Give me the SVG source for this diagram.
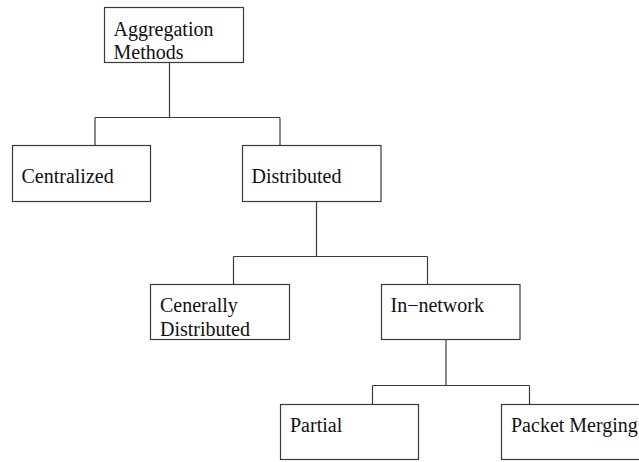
<svg xmlns="http://www.w3.org/2000/svg" width="639" height="462" viewBox="0 0 639 462">
  <style>
    .box { fill: #ffffff; stroke: #3a3a3a; stroke-width: 1.2; }
    .lbl { font-family: "Liberation Serif", "Times New Roman", serif; font-size: 20px; fill: #111111; }
    .conn { fill: none; stroke: #3a3a3a; stroke-width: 1.2; }
  </style>
  <rect width="639" height="462" fill="#ffffff"/>

  <!-- tree connectors -->
  <g id="connectors">
    <path class="conn" d="M169.5 62.5 V117.5 M95 117.5 H280 M95 117.5 V145.5 M280 117.5 V145.5"/>
    <path class="conn" d="M316.5 201.5 V256.5 M233.5 256.5 H427.5 M233.5 256.5 V284.5 M427.5 256.5 V284.5"/>
    <path class="conn" d="M446 339.5 V385.5 M372.5 385.5 H529.5 M372.5 385.5 V404.5 M529.5 385.5 V404.5"/>
  </g>

  <g id="node-aggregation">
    <rect class="box" x="104.5" y="7.5" width="139" height="55"/>
    <text class="lbl" x="113.5" y="35.5">Aggregation</text>
    <text class="lbl" x="113.5" y="58.5">Methods</text>
  </g>

  <g id="node-centralized">
    <rect class="box" x="12.5" y="145.5" width="138" height="56"/>
    <text class="lbl" x="21.5" y="183">Centralized</text>
  </g>

  <g id="node-distributed">
    <rect class="box" x="242.5" y="145.5" width="138.5" height="56"/>
    <text class="lbl" x="251.5" y="183">Distributed</text>
  </g>

  <g id="node-generally-distributed">
    <rect class="box" x="150.5" y="284.5" width="139" height="55"/>
    <text class="lbl" x="160" y="311.5">Cenerally</text>
    <text class="lbl" x="160" y="335.5">Distributed</text>
  </g>

  <g id="node-in-network">
    <rect class="box" x="381.5" y="284.5" width="138.5" height="55"/>
    <text class="lbl" x="390.5" y="311.5">In−network</text>
  </g>

  <g id="node-partial">
    <rect class="box" x="280.5" y="404.5" width="138" height="55"/>
    <text class="lbl" x="290" y="431.5">Partial</text>
  </g>

  <g id="node-packet-merging">
    <rect class="box" x="501.5" y="404.5" width="145" height="55"/>
    <text class="lbl" x="511" y="431.5">Packet Merging</text>
  </g>
</svg>
